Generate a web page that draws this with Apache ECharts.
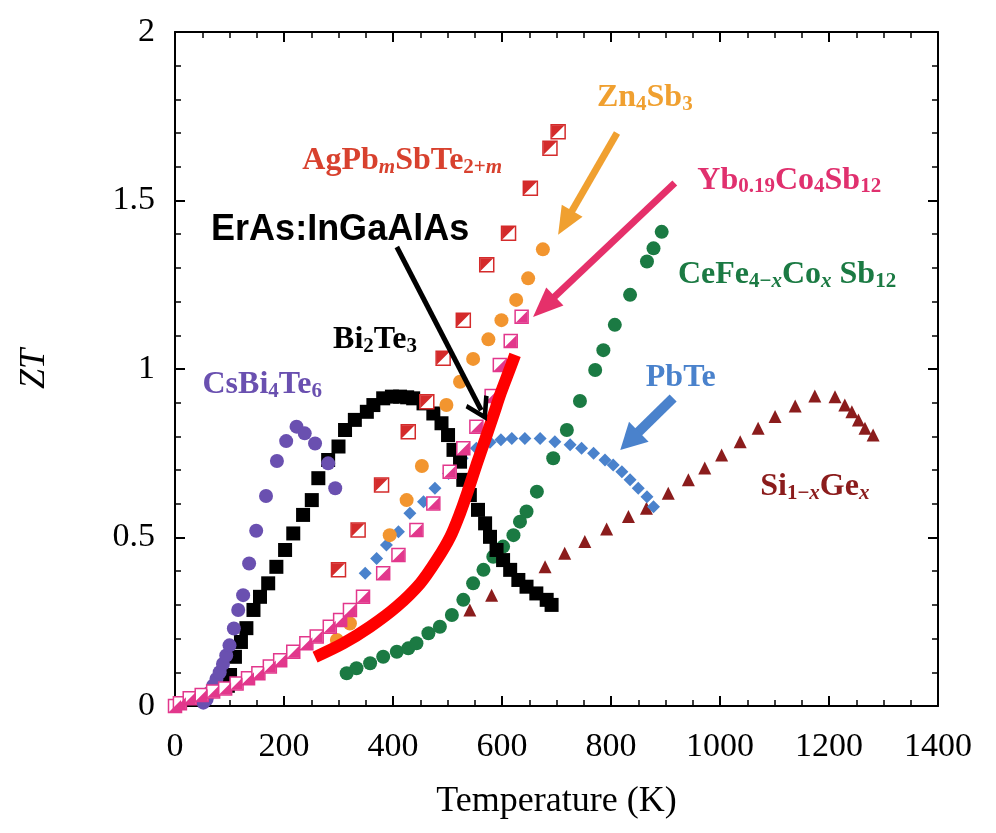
<!DOCTYPE html>
<html>
<head>
<meta charset="utf-8">
<script src="https://cdn.jsdelivr.net/npm/echarts@6/dist/echarts.min.js"></script>
<style>
html,body{margin:0;padding:0;background:#ffffff;}
#c{width:996px;height:833px;}
</style>
</head>
<body>
<div id="c"></div>
<script>
// ---- axis ticks ----
const xTickValues = [0, 200, 400, 600, 800, 1000, 1200, 1400];
const yTickValues = [0, 0.5, 1, 1.5, 2];

// ---- series values [T (K), ZT] ----
const csBi4Te6 = [[52,0.01],[58,0.02],[64,0.04],[70,0.06],[76,0.08],[82,0.10],[88,0.125],[94,0.15],[100,0.18],[108,0.23],[116,0.285],[125,0.329],[136,0.423],[149,0.52],[167,0.623],[187,0.727],[204,0.786],[223,0.829],[238,0.809],[257,0.779],[281,0.72],[294,0.646]];
const bi2Te3 = [[97,0.06],[101,0.092],[110,0.146],[121,0.19],[131,0.231],[144,0.285],[156,0.324],[171,0.364],[186,0.413],[202,0.463],[217,0.512],[235,0.567],[251,0.611],[263,0.676],[281,0.73],[300,0.77],[312,0.819],[330,0.849],[352,0.873],[364,0.893],[382,0.913],[398,0.918],[413,0.918],[426,0.916],[437,0.913],[456,0.898],[474,0.868],[489,0.839],[501,0.804],[511,0.76],[523,0.725],[529,0.671],[541,0.626],[556,0.582],[569,0.542],[578,0.502],[590,0.463],[602,0.433],[615,0.404],[630,0.374],[645,0.354],[663,0.334],[682,0.315],[691,0.3]];
const yb019Co4Sb12 = [[0,0],[9,0.008],[27,0.023],[49,0.033],[70,0.043],[92,0.052],[113,0.067],[134,0.082],[153,0.097],[174,0.117],[193,0.136],[217,0.161],[241,0.186],[260,0.206],[284,0.235],[303,0.255],[321,0.285],[345,0.324],[382,0.394],[410,0.448],[443,0.522],[474,0.601],[504,0.695],[529,0.765],[553,0.829],[581,0.92],[596,1.012],[616,1.083],[636,1.155]];
const agPbmSbTe = [[300,0.404],[336,0.522],[379,0.656],[428,0.814],[462,0.903],[492,1.032],[529,1.145],[572,1.309],[612,1.403],[652,1.536],[688,1.655],[703,1.704]];
const zn4Sb3 = [[297,0.196],[321,0.245],[394,0.507],[425,0.611],[453,0.712],[498,0.893],[523,0.962],[547,1.03],[575,1.088],[599,1.145],[626,1.205],[648,1.269],[675,1.355]];
const ceFeCoSb12 = [[315,0.097],[333,0.112],[358,0.127],[382,0.146],[407,0.161],[428,0.171],[443,0.186],[465,0.216],[486,0.235],[508,0.27],[529,0.315],[547,0.364],[566,0.404],[584,0.443],[602,0.473],[621,0.507],[633,0.547],[645,0.577],[664,0.636],[694,0.735],[719,0.819],[743,0.905],[771,0.997],[786,1.056],[807,1.131],[835,1.22],[866,1.319],[878,1.358],[893,1.407]];
const pbTe = [[349,0.394],[370,0.438],[388,0.478],[410,0.517],[431,0.572],[456,0.606],[477,0.646],[502,0.69],[527,0.735],[553,0.765],[578,0.783],[598,0.79],[618,0.794],[642,0.794],[670,0.794],[697,0.784],[725,0.775],[746,0.765],[768,0.75],[789,0.73],[804,0.715],[820,0.695],[835,0.671],[850,0.646],[866,0.621],[878,0.591]];
const siGe = [[541,0.285],[581,0.329],[679,0.413],[715,0.453],[752,0.488],[792,0.525],[832,0.562],[865,0.587],[905,0.631],[942,0.671],[972,0.706],[1003,0.745],[1037,0.784],[1070,0.824],[1101,0.859],[1138,0.89],[1174,0.92],[1211,0.918],[1229,0.893],[1242,0.873],[1254,0.849],[1266,0.824],[1281,0.804]];
const erAsInGaAlAs = [[257,0.145],[309,0.186],[358,0.235],[407,0.295],[450,0.364],[480,0.433],[505,0.502],[523,0.572],[538,0.641],[553,0.715],[569,0.79],[584,0.862],[598,0.93],[612,0.99],[624,1.042]];

// ---- annotation anchors (data coords) ----
const labelCsBi4Te6 = [160, 0.952];
const labelBi2Te3 = [367, 1.086];
const labelAgPb = [417, 1.617];
const labelZn4Sb3 = [862, 1.804];
const labelYb = [1127, 1.56];
const labelCeFe = [1123, 1.279];
const labelPbTe = [928, 0.975];
const labelSiGe = [1174, 0.65];
const labelErAs = [303, 1.412];

const arrowZn = [[811, 1.700], [703, 1.398]];
const arrowYb = [[917, 1.552], [657, 1.154]];
const arrowErAs = [[407, 1.362], [572, 0.846]];
const arrowPbTe = [[914, 0.914], [817, 0.760]];

// ---- colours ----
const C = {
  purple: '#6a50b0', black: '#000000', agpb: '#d42b2b', agpbLabel: '#d8412e',
  orange: '#f2952f', orangeLabel: '#f0a030', pink: '#e2378c', pinkLabel: '#e0306e',
  green: '#1b7a43', blue: '#4a82cc', darkred: '#8b1c1c', red: '#ff0000'
};

const SERIF = 'Liberation Serif';
function rich(color) {
  return {
    m:  {fontFamily: SERIF, fontWeight: 'bold', fontSize: 32, lineHeight: 34, color: color},
    s:  {fontFamily: SERIF, fontWeight: 'bold', fontSize: 21, lineHeight: 12, verticalAlign: 'bottom', color: color},
    si: {fontFamily: SERIF, fontWeight: 'bold', fontStyle: 'italic', fontSize: 21, lineHeight: 12, verticalAlign: 'bottom', color: color}
  };
}
function labelPoint(pos, fmt, color) {
  return {
    symbol: 'circle', symbolSize: 0, silent: true, animation: false,
    label: {show: true, position: 'inside', formatter: fmt, rich: rich(color)},
    data: [{coord: pos}]
  };
}

const TRI_LR = 'path://M0,10 L10,10 L10,0 Z';
const TRI_UL = 'path://M0,0 L10,0 L0,10 Z';
const HEAD = 'path://M0,0 L10,20 L-10,20 Z';
const CHEVRON = 'path://M0,0 L11,17 L8,19.5 L0,7 L-8,19.5 L-11,17 Z';

const arrows = [
  {pts: arrowZn, color: C.orangeLabel, width: 7, head: [24, 28], symbol: HEAD},
  {pts: arrowYb, color: '#e5306a', width: 7, head: [25, 30], symbol: HEAD},
  {pts: arrowErAs, color: '#000000', width: 5, head: [26, 24], symbol: CHEVRON},
  {pts: arrowPbTe, color: C.blue, width: 10, head: [28, 26], symbol: HEAD}
];

function tick() { return {show: true, inside: true, length: 10, lineStyle: {color: '#000000', width: 2}}; }
function minor(n) { return {show: true, splitNumber: n, length: 6, lineStyle: {color: '#000000', width: 1.5}}; }
function axLine() { return {show: true, onZero: false, lineStyle: {color: '#000000', width: 2}}; }
function plain(v) { return String(v); }
function scatterStyle(color, extra) { return Object.assign({color: color, opacity: 1}, extra || {}); }

const GRID = {left: 175, right: 58, top: 32, bottom: 127};
const xMin = xTickValues[0], xMax = xTickValues[xTickValues.length - 1], xInt = xTickValues[1] - xTickValues[0];
const yMin = yTickValues[0], yMax = yTickValues[yTickValues.length - 1], yInt = yTickValues[1] - yTickValues[0];

function buildOption(arrowLines) {
  const tickFont = function () { return {fontFamily: SERIF, fontSize: 34, color: '#000'}; };
  return {
    backgroundColor: '#ffffff',
    animation: false,
    grid: {left: GRID.left, right: GRID.right, top: GRID.top, bottom: GRID.bottom},
    xAxis: [
      {type: 'value', position: 'bottom', min: xMin, max: xMax, interval: xInt,
        axisLine: axLine(), axisTick: tick(), minorTick: minor(4), splitLine: {show: false},
        axisLabel: Object.assign({show: true, margin: 24, formatter: plain}, tickFont()),
        name: 'Temperature (K)', nameLocation: 'middle', nameGap: 78,
        nameTextStyle: {fontFamily: SERIF, fontSize: 36, color: '#000'}},
      {type: 'value', position: 'top', min: xMin, max: xMax, interval: xInt,
        axisLine: axLine(), axisTick: tick(), minorTick: minor(4), splitLine: {show: false},
        axisLabel: {show: false}}
    ],
    yAxis: [
      {type: 'value', position: 'left', min: yMin, max: yMax, interval: yInt,
        axisLine: axLine(), axisTick: tick(), minorTick: minor(5), splitLine: {show: false},
        axisLabel: Object.assign({show: true, margin: 20, formatter: plain}, tickFont()),
        name: 'ZT', nameLocation: 'middle', nameRotate: 90, nameGap: 122,
        nameTextStyle: {fontFamily: SERIF, fontStyle: 'italic', fontSize: 36, color: '#000'}},
      {type: 'value', position: 'right', min: yMin, max: yMax, interval: yInt,
        axisLine: axLine(), axisTick: tick(), minorTick: minor(5), splitLine: {show: false},
        axisLabel: {show: false}}
    ],
    series: [
      {name: 'Si1-xGex', type: 'scatter', data: siGe, symbol: 'triangle', symbolSize: 13,
        itemStyle: scatterStyle(C.darkred),
        markPoint: labelPoint(labelSiGe, '{m|Si}{s|1−}{si|x}{m|Ge}{si|x}', C.darkred)},
      {name: 'CeFe4-xCoxSb12', type: 'scatter', data: ceFeCoSb12, symbol: 'circle', symbolSize: 14,
        itemStyle: scatterStyle(C.green),
        markPoint: labelPoint(labelCeFe, '{m|CeFe}{s|4−}{si|x}{m|Co}{si|x}{m| Sb}{s|12}', C.green)},
      {name: 'PbTe', type: 'scatter', data: pbTe, symbol: 'diamond', symbolSize: 13,
        itemStyle: scatterStyle(C.blue),
        markPoint: labelPoint(labelPbTe, '{m|PbTe}', C.blue)},
      {name: 'Bi2Te3', type: 'scatter', data: bi2Te3, symbol: 'rect', symbolSize: 14,
        itemStyle: scatterStyle(C.black),
        markPoint: labelPoint(labelBi2Te3, '{m|Bi}{s|2}{m|Te}{s|3}', '#000')},
      {name: 'CsBi4Te6', type: 'scatter', data: csBi4Te6, symbol: 'circle', symbolSize: 14,
        itemStyle: scatterStyle(C.purple),
        markPoint: labelPoint(labelCsBi4Te6, '{m|CsBi}{s|4}{m|Te}{s|6}', C.purple)},
      {name: 'Zn4Sb3', type: 'scatter', data: zn4Sb3, symbol: 'circle', symbolSize: 14,
        itemStyle: scatterStyle(C.orange),
        markPoint: labelPoint(labelZn4Sb3, '{m|Zn}{s|4}{m|Sb}{s|3}', C.orangeLabel)},
      {name: 'Yb0.19Co4Sb12', type: 'scatter', data: yb019Co4Sb12, symbol: 'rect', symbolSize: 13,
        itemStyle: scatterStyle('#ffffff', {borderColor: C.pink, borderWidth: 1.5}),
        markPoint: labelPoint(labelYb, '{m|Yb}{s|0.19}{m|Co}{s|4}{m|Sb}{s|12}', C.pinkLabel)},
      {name: 'Yb0.19Co4Sb12 fill', type: 'scatter', data: yb019Co4Sb12, symbol: TRI_LR, symbolSize: 12,
        itemStyle: scatterStyle(C.pink)},
      {name: 'AgPbmSbTe2+m', type: 'scatter', data: agPbmSbTe, symbol: 'rect', symbolSize: 14,
        itemStyle: scatterStyle('#ffffff', {borderColor: C.agpb, borderWidth: 1.5}),
        markPoint: labelPoint(labelAgPb, '{m|AgPb}{si|m}{m|SbTe}{s|2+}{si|m}', C.agpbLabel)},
      {name: 'AgPbmSbTe2+m fill', type: 'scatter', data: agPbmSbTe, symbol: TRI_UL, symbolSize: 13,
        itemStyle: scatterStyle(C.agpb)},
      {name: 'ErAs:InGaAlAs', type: 'line', data: erAsInGaAlAs, smooth: 0.3, showSymbol: false,
        symbol: 'none', z: 3,
        lineStyle: {color: C.red, width: 12, cap: 'butt'},
        markPoint: {symbol: 'circle', symbolSize: 0, silent: true, animation: false,
          label: {show: true, position: 'inside', formatter: 'ErAs:InGaAlAs',
            fontFamily: 'Liberation Sans', fontWeight: 'bold', fontSize: 36, color: '#000'},
          data: [{coord: labelErAs}]},
        markLine: {silent: true, animation: false, symbol: ['none', 'none'],
          label: {show: false}, emphasis: {disabled: true}, data: arrowLines}}
    ]
  };
}

const chart = echarts.init(document.getElementById('c'), null, {renderer: 'canvas'});

// pixel scale of the plot area (from chart size, grid margins and axis ranges),
// used only to pull each arrow end back by half its head length
const plotW = chart.getWidth() - GRID.left - GRID.right;
const plotH = chart.getHeight() - GRID.top - GRID.bottom;
const kx = plotW / (xMax - xMin), ky = plotH / (yMax - yMin);
const arrowLines = arrows.map(function (a) {
  const from = a.pts[0], to = a.pts[1];
  const dx = (to[0] - from[0]) * kx, dy = (to[1] - from[1]) * ky;
  const L = Math.hypot(dx, dy);
  const half = a.head[1] / 2;
  const c = [to[0] - dx / L * half / kx, to[1] - dy / L * half / ky];
  const ls = {color: a.color, width: a.width, type: 'solid'};
  return [
    {coord: from, symbol: 'none', lineStyle: ls, itemStyle: {color: a.color}},
    {coord: c, symbol: a.symbol, symbolSize: a.head, lineStyle: ls, itemStyle: {color: a.color}}
  ];
});

chart.setOption(buildOption(arrowLines));
try {
  chart.getZr().storage.getDisplayList(true);
  chart.getZr().refreshImmediately();
} catch (e) {}
</script>
</body>
</html>
